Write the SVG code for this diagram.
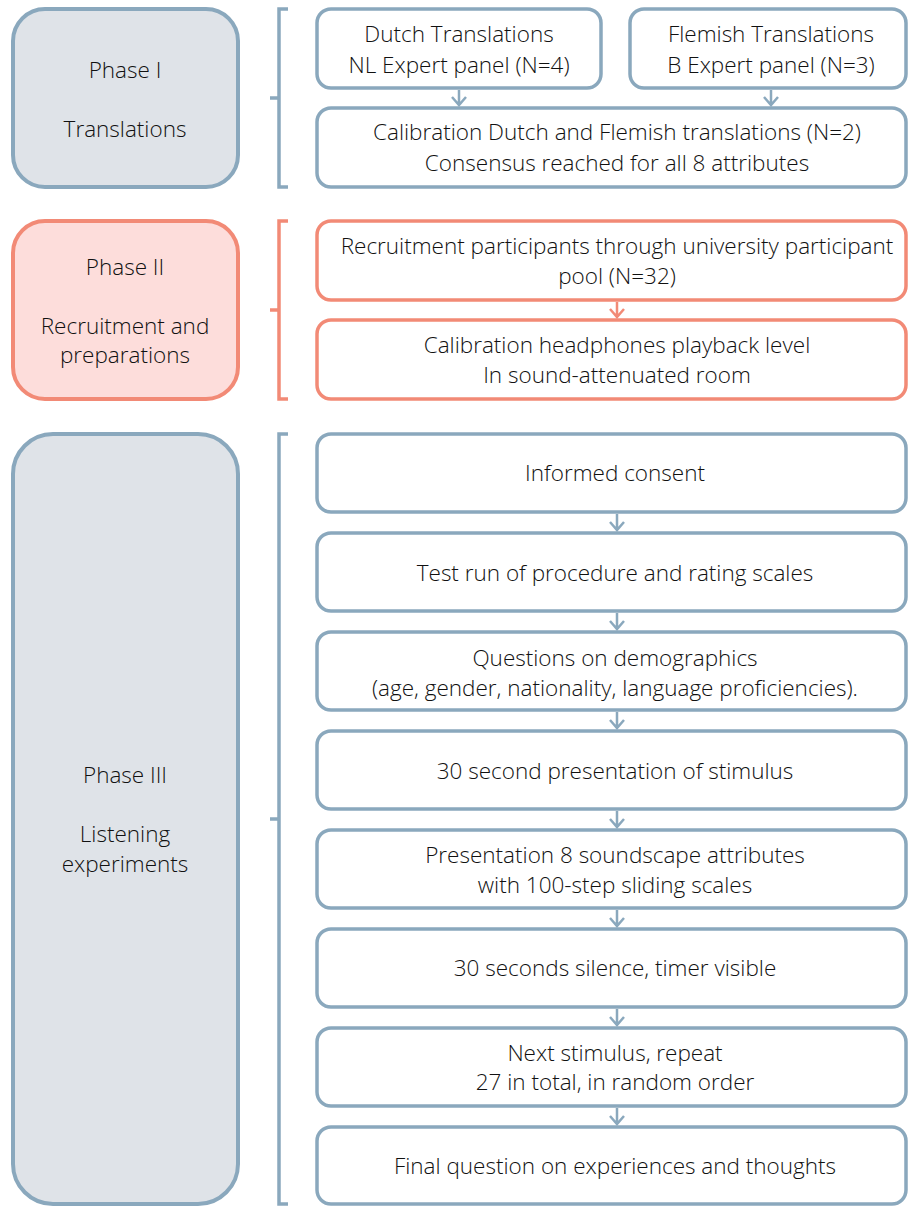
<svg xmlns="http://www.w3.org/2000/svg" width="909" height="1207" viewBox="0 0 909 1207">
<defs>
<style>
.b{fill:#fff;stroke:#8aa8bd;stroke-width:3.5}
.r{fill:#fff;stroke:#f28a76;stroke-width:3.5}
.pb{fill:#dfe3e8;stroke:#8aa8bd;stroke-width:4}
.pr{fill:#fddddb;stroke:#f28a76;stroke-width:4}
.brb{fill:none;stroke:#8aa8bd;stroke-width:3.5}
.brr{fill:none;stroke:#f28a76;stroke-width:3.5}
.cb{fill:none;stroke:#8aa8bd;stroke-width:2.5}
.cr{fill:none;stroke:#f28a76;stroke-width:2.5}
text{font-family:"Open Sans","Liberation Sans",sans-serif;font-weight:300;font-size:22.5px;fill:#111;text-anchor:middle}
</style>
</defs>

<g id="phase1">
<rect class="pb" x="13" y="9" width="225" height="178" rx="32"/>
<text x="125" y="78">Phase I</text>
<text x="125" y="137">Translations</text>
</g>
<g id="phase2">
<rect class="pr" x="13" y="221" width="225" height="178" rx="32"/>
<text x="125" y="275">Phase II</text>
<text x="125" y="334">Recruitment and</text>
<text x="125" y="363">preparations</text>
</g>
<g id="phase3">
<rect class="pb" x="13" y="434" width="225" height="770" rx="40"/>
<text x="125" y="783">Phase III</text>
<text x="125" y="842">Listening</text>
<text x="125" y="872">experiments</text>
</g>

<g id="braces">
<path class="brb" d="M288,9 H279 V187 H288 M279,98 H270"/>
<path class="brr" d="M288,221 H279 V399 H288 M279,310 H270"/>
<path class="brb" d="M288,434 H279 V1204 H288 M279,819 H270"/>
</g>

<g id="n-dutch">
<rect class="b" x="317" y="9" width="284" height="79" rx="14"/>
<text x="459" y="42">Dutch Translations</text>
<text x="459" y="73">NL Expert panel (N=4)</text>
</g>
<g id="n-flemish">
<rect class="b" x="630" y="9" width="276" height="79" rx="14"/>
<text x="771" y="42">Flemish Translations</text>
<text x="771" y="73">B Expert panel (N=3)</text>
</g>
<g id="n-calib">
<rect class="b" x="317" y="108" width="589" height="79" rx="14"/>
<text x="617" y="140">Calibration Dutch and Flemish translations (N=2)</text>
<text x="617" y="171">Consensus reached for all 8 attributes</text>
</g>
<g id="n-recruit">
<rect class="r" x="317" y="221" width="589" height="79" rx="14"/>
<text x="617" y="254">Recruitment participants through university participant</text>
<text x="617" y="284">pool (N=32)</text>
</g>
<g id="n-headph">
<rect class="r" x="317" y="320" width="589" height="79" rx="14"/>
<text x="617" y="353">Calibration headphones playback level</text>
<text x="617" y="383">In sound-attenuated room</text>
</g>
<g id="n-consent">
<rect class="b" x="317" y="434" width="589" height="78" rx="14"/>
<text x="615" y="481">Informed consent</text>
</g>
<g id="n-test">
<rect class="b" x="317" y="533" width="589" height="78" rx="14"/>
<text x="615" y="581">Test run of procedure and rating scales</text>
</g>
<g id="n-demo">
<rect class="b" x="317" y="632" width="589" height="78" rx="14"/>
<text x="615" y="666">Questions on demographics</text>
<text x="615" y="696">(age, gender, nationality, language proficiencies).</text>
</g>
<g id="n-stim">
<rect class="b" x="317" y="731" width="589" height="78" rx="14"/>
<text x="615" y="779">30 second presentation of stimulus</text>
</g>
<g id="n-attr">
<rect class="b" x="317" y="830" width="589" height="78" rx="14"/>
<text x="615" y="863">Presentation 8 soundscape attributes</text>
<text x="615" y="893">with 100-step sliding scales</text>
</g>
<g id="n-silence">
<rect class="b" x="317" y="929" width="589" height="78" rx="14"/>
<text x="615" y="976">30 seconds silence, timer visible</text>
</g>
<g id="n-next">
<rect class="b" x="317" y="1028" width="589" height="78" rx="14"/>
<text x="615" y="1061">Next stimulus, repeat</text>
<text x="615" y="1090">27 in total, in random order</text>
</g>
<g id="n-final">
<rect class="b" x="317" y="1127" width="589" height="77" rx="14"/>
<text x="615" y="1174">Final question on experiences and thoughts</text>
</g>

<g id="connectors">
<path class="cb" d="M459,90 V105 M452,97 L459,105 L466,97"/>
<path class="cb" d="M771,90 V105 M764,97 L771,105 L778,97"/>
<path class="cr" d="M617,302 V317 M610,309 L617,317 L624,309"/>
<path class="cb" d="M617,514 V530 M610,522 L617,530 L624,522"/>
<path class="cb" d="M617,613 V629 M610,621 L617,629 L624,621"/>
<path class="cb" d="M617,712 V728 M610,720 L617,728 L624,720"/>
<path class="cb" d="M617,811 V827 M610,819 L617,827 L624,819"/>
<path class="cb" d="M617,910 V926 M610,918 L617,926 L624,918"/>
<path class="cb" d="M617,1009 V1025 M610,1017 L617,1025 L624,1017"/>
<path class="cb" d="M617,1108 V1124 M610,1116 L617,1124 L624,1116"/>
</g>
</svg>
